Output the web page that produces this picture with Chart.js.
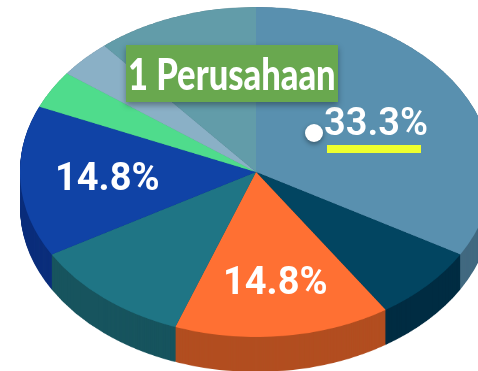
<!DOCTYPE html>
<html>
<head>
<meta charset="utf-8">
<script src="https://cdn.jsdelivr.net/npm/chart.js@4"></script>
<style>
  html, body { margin: 0; background: #fff; }
  #stage { position: relative; width: 478px; height: 371px; overflow: hidden; }
  canvas { position: absolute; left: 20px; top: -64px; transform-origin: 236px 236px; transform: scaleY(0.699); }
  .pct { position: absolute; color: #fff; font: 700 38px Roboto, sans-serif; line-height: 40px; white-space: nowrap; }
  #title { position: absolute; left: 126px; top: 45px; width: 212px; height: 57px; background: #69a84f;
    box-shadow: 0 3px 6px rgba(0,0,0,.35); }
  #titleText { position: absolute; left: 2px; top: 0; color: #fff; transform-origin: 0 0;
    font: 900 43px Lato, sans-serif; line-height: 57px; white-space: nowrap; }
  #dot { position: absolute; left: 305px; top: 124px; width: 18px; height: 18px; border-radius: 50%;
    background: #fff; box-shadow: 0 2px 5px rgba(0,0,0,.4); }
  #bar { position: absolute; left: 327px; top: 145px; width: 94px; height: 8px; background: #eeff2e; }
</style>
</head>
<body>
<div id="stage">
  <canvas id="side" width="472" height="522"></canvas>
  <canvas id="top" width="472" height="472"></canvas>
  <div class="pct" id="p0" style="left:324px;top:102px;font-weight:600"></div>
  <div class="pct" id="p2" style="left:223px;top:261px"></div>
  <div class="pct" id="p4" style="left:55px;top:157px"></div>
  <div id="dot"></div>
  <div id="bar"></div>
  <div id="title"><span id="titleText"></span></div>
</div>
<script>
const title = '1 Perusahaan';
const categories = ['A', 'B', 'C', 'D', 'E', 'F', 'G', 'H'];
const values = [33.3, 7.4, 14.8, 11.1, 14.8, 3.7, 3.7, 11.1];
const topColors = ['#5990af', '#024561', '#ff7033', '#1f7585', '#1043a6', '#4fdc8c', '#8ab0c6', '#629ca9'];
const sideColors = ['#426a80', '#002c42', '#b24e20', '#17545e', '#0c2f7c', '#3aa468', '#688595', '#49747e'];
const depth = 50;

// repeats the arcs downwards so the rim gets straight seams
const rimPlugin = {
  id: 'rim',
  beforeDatasetsDraw(chart) {
    const ctx = chart.ctx;
    const arcs = chart.getDatasetMeta(0).data;
    for (let d = depth; d > 0; d--) {
      ctx.save();
      ctx.translate(0, d);
      arcs.forEach(arc => arc.draw(ctx));
      ctx.restore();
    }
  }
};

function pie(id, colors, bottom, plugins) {
  return new Chart(document.getElementById(id), {
    type: 'pie',
    data: {
      labels: categories,
      datasets: [{ data: values, backgroundColor: colors, borderWidth: 0 }]
    },
    options: {
      responsive: false,
      animation: false,
      layout: { padding: { bottom } },
      plugins: { legend: { display: false }, tooltip: { enabled: false } }
    },
    plugins
  });
}

pie('side', sideColors, depth, [rimPlugin]);
pie('top', topColors, 0, []);

const titleText = document.getElementById('titleText');
titleText.textContent = title;
// no condensed font here, so squeeze the text to the box
titleText.style.transform = `scaleX(${208 / titleText.offsetWidth})`;
[0, 2, 4].forEach(i => {
  document.getElementById('p' + i).textContent = values[i].toFixed(1) + '%';
});
</script>
</body>
</html>
